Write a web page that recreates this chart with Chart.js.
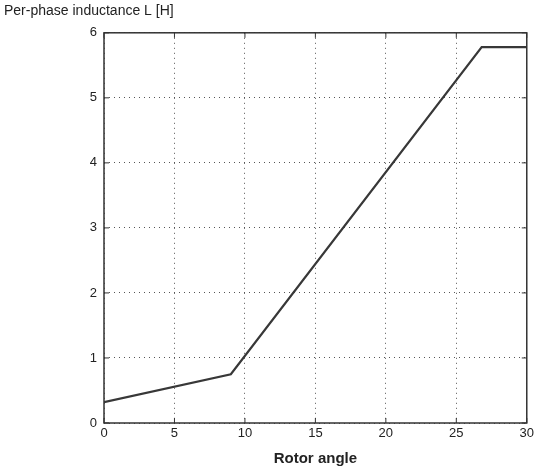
<!DOCTYPE html>
<html>
<head>
<meta charset="utf-8">
<script src="https://cdn.jsdelivr.net/npm/chart.js@4.4.0/dist/chart.umd.min.js"></script>
<style>
  html, body { margin: 0; padding: 0; background: #fff; }
  #wrap { width: 537px; height: 472px; }
</style>
</head>
<body>
<div id="wrap"><canvas id="c"></canvas></div>
<script>
// rotor angle vs per-phase inductance
const rotorAngle = [0, 9, 26.8, 30];
const inductance = [0.32, 0.75, 5.78, 5.78];
const xTicks = [0, 5, 10, 15, 20, 25, 30];
const yTicks = [0, 1, 2, 3, 4, 5, 6];

const ink = '#222';
const font = 'Liberation Sans, Arial, sans-serif';

// box round the plot plus small inward tick marks, like the original
const framePlugin = {
  id: 'frame',
  afterDraw(chart) {
    const { ctx, chartArea: a, scales } = chart;
    ctx.save();
    ctx.strokeStyle = '#333';
    ctx.lineWidth = 1.5;
    ctx.setLineDash([]);
    ctx.strokeRect(a.left, a.top, a.right - a.left, a.bottom - a.top);
    ctx.lineWidth = 1;
    xTicks.forEach(v => {
      const px = scales.x.getPixelForValue(v);
      ctx.beginPath();
      ctx.moveTo(px, a.bottom); ctx.lineTo(px, a.bottom - 5);
      ctx.moveTo(px, a.top); ctx.lineTo(px, a.top + 5);
      ctx.stroke();
    });
    yTicks.forEach(v => {
      const py = scales.y.getPixelForValue(v);
      ctx.beginPath();
      ctx.moveTo(a.left, py); ctx.lineTo(a.left + 5, py);
      ctx.moveTo(a.right, py); ctx.lineTo(a.right - 5, py);
      ctx.stroke();
    });
    ctx.restore();
  }
};

new Chart(document.getElementById('c'), {
  type: 'scatter',
  data: {
    datasets: [{
      data: rotorAngle.map((x, i) => ({ x, y: inductance[i] })),
      showLine: true,
      borderColor: '#383838',
      borderWidth: 2.2,
      pointRadius: 0,
      tension: 0
    }]
  },
  options: {
    responsive: true,
    maintainAspectRatio: false,
    animation: false,
    layout: { padding: { left: 4, right: 10, top: 0, bottom: 0 } },
    plugins: {
      legend: { display: false },
      tooltip: { enabled: false },
      title: {
        display: true,
        text: 'Per-phase inductance L [H]',
        align: 'start',
        color: ink,
        font: { family: font, size: 14, weight: 'normal' },
        padding: { top: 3, bottom: 13 }
      }
    },
    scales: {
      x: {
        type: 'linear',
        min: 0, max: 30,
        afterBuildTicks: s => { s.ticks = xTicks.map(v => ({ value: v })); },
        afterFit: s => { s.height = 49; },
        border: { display: false, dash: [1, 4] },
        grid: { color: '#555', lineWidth: 1, drawTicks: false },
        ticks: { color: ink, font: { family: font, size: 13 }, padding: 3, maxRotation: 0 },
        title: { display: true, text: 'Rotor angle', color: ink, font: { family: font, size: 15, weight: 'bold' }, padding: { top: 2 } }
      },
      y: {
        min: 0, max: 6,
        afterBuildTicks: s => { s.ticks = yTicks.map(v => ({ value: v })); },
        afterFit: s => { s.width = 100; },
        border: { display: false, dash: [1, 4] },
        grid: { color: '#555', lineWidth: 1, drawTicks: false },
        ticks: { color: ink, font: { family: font, size: 13 }, padding: 7 }
      }
    }
  },
  plugins: [framePlugin]
});
</script>
</body>
</html>
